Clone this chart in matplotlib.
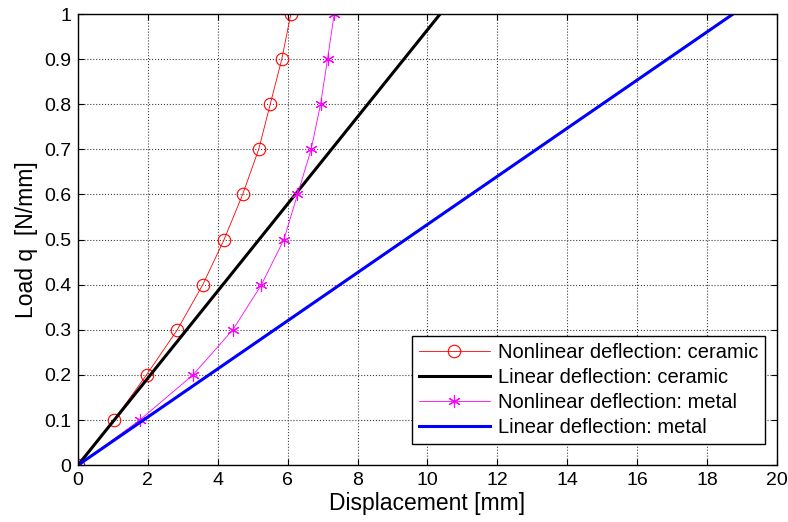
import matplotlib.pyplot as plt
import numpy as np

plt.rcParams['font.family'] = ['Liberation Sans', 'DejaVu Sans']

# load levels
q = [0, 0.1, 0.2, 0.3, 0.4, 0.5, 0.6, 0.7, 0.8, 0.9, 1.0]
# nonlinear deflections
w_ceramic = [0, 1.03, 1.96, 2.84, 3.57, 4.18, 4.71, 5.17, 5.50, 5.83, 6.09]
w_metal = [0, 1.77, 3.29, 4.43, 5.25, 5.89, 6.28, 6.67, 6.94, 7.14, 7.33]
# linear deflections (straight lines)
q_lin = [0, 1.0]
w_lin_ceramic = [0, 10.36]
w_lin_metal = [0, 18.74]

fig = plt.figure(figsize=(7.88, 5.22), dpi=100)
ax = fig.add_axes([0.099, 0.109, 0.887, 0.864])

ax.plot(w_ceramic, q, color='red', lw=0.6, marker='o', ms=9, mfc='none', mec='red',
        mew=0.8, label='Nonlinear deflection: ceramic')
ax.plot(w_lin_ceramic, q_lin, color='black', lw=2.2, label='Linear deflection: ceramic')
ax.plot(w_metal, q, color='magenta', lw=0.6, marker=(6, 2, 0), ms=9, mec='magenta',
        mew=0.8, label='Nonlinear deflection: metal')
ax.plot(w_lin_metal, q_lin, color='blue', lw=2.2, label='Linear deflection: metal')

ax.set_xlim(0, 20)
ax.set_ylim(0, 1)
ax.set_xticks(np.arange(0, 21, 2))
ax.set_yticks(np.arange(0, 1.01, 0.1))
ax.set_yticklabels(['0', '0.1', '0.2', '0.3', '0.4', '0.5', '0.6', '0.7', '0.8', '0.9', '1'])
ax.grid(True, color='#404040', linestyle=':', linewidth=0.8)
ax.tick_params(direction='in', top=True, right=True, labelsize=14, length=4, pad=5)
for s in ax.spines.values():
    s.set_linewidth(1.0)

ax.set_xlabel('Displacement [mm]', fontsize=16.5, labelpad=2)
ax.set_ylabel('Load q  [N/mm]', fontsize=16.5, labelpad=4)

leg = ax.legend(loc='lower right', bbox_to_anchor=(0.983, 0.047), borderaxespad=0,
                fontsize=14.5, fancybox=False, framealpha=1, edgecolor='black',
                borderpad=0.35, labelspacing=0.3, handlelength=3.5, handletextpad=0.4)
leg.get_frame().set_linewidth(1.0)

fig.savefig('out.png', dpi=100)
